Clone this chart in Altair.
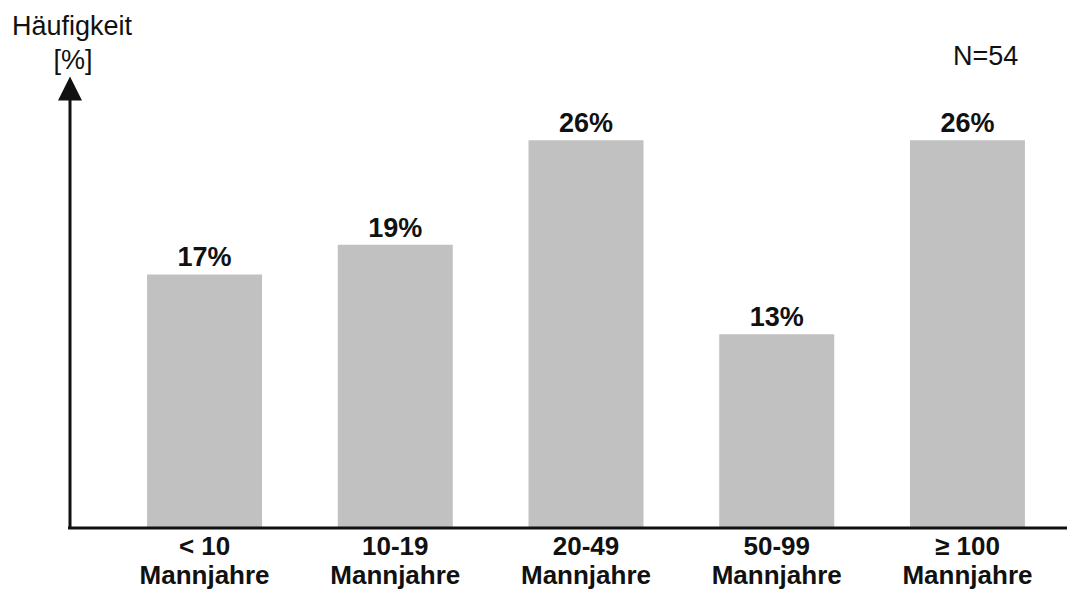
import altair as alt
import pandas as pd

# Team size classes (person-years) and share of projects in percent
categories = ["< 10\nMannjahre", "10-19\nMannjahre", "20-49\nMannjahre",
              "50-99\nMannjahre", "≥ 100\nMannjahre"]
shares = [17, 19, 26, 13, 26]
share_labels = ["17%", "19%", "26%", "13%", "26%"]

y_title_line1 = "Häufigkeit"
y_title_line2 = "[%]"
sample_note = "N=54"

FONT = "Liberation Sans"
INK = "#111111"
BAR = "#c1c1c1"

df = pd.DataFrame({"cat": categories, "share": shares, "label": share_labels})
one = pd.DataFrame({"k": [0]})

x_enc = alt.X("cat:N", sort=categories, axis=None,
              scale=alt.Scale(range=[0, 1032], paddingInner=0.397, paddingOuter=0.404))
y_scale = alt.Scale(domain=[0, 28.7], nice=False, zero=True)

base = alt.Chart(df)

bars = base.mark_bar(color=BAR).encode(
    x=x_enc,
    y=alt.Y("share:Q", scale=y_scale, axis=None),
)

values = base.mark_text(font=FONT, fontSize=27, fontWeight="bold", color=INK,
                        baseline="alphabetic", dy=-8).encode(
    x=x_enc,
    y=alt.Y("share:Q", scale=y_scale),
    text="label:N",
)

cat_labels = base.mark_text(font=FONT, fontSize=26, fontWeight="bold", color=INK,
                            baseline="alphabetic", lineBreak="\n", lineHeight=29).encode(
    x=x_enc,
    y=alt.value(455),
    text="cat:N",
)

# axis lines with an arrow head on the vertical axis
y_line = alt.Chart(one).mark_rule(color=INK, strokeWidth=3).encode(
    x=alt.value(0), y=alt.value(0), y2=alt.value(429))
x_line = alt.Chart(one).mark_rule(color=INK, strokeWidth=3).encode(
    y=alt.value(428), x=alt.value(-2), x2=alt.value(997))
arrow = alt.Chart(one).mark_point(shape="M-1,1L1,1L0,-1Z", filled=True, opacity=1,
                                  color=INK, size=576).encode(
    x=alt.value(0), y=alt.value(-11.5))

title1 = alt.Chart(one).mark_text(font=FONT, fontSize=27, color=INK, align="left",
                                  baseline="alphabetic", text=y_title_line1).encode(
    x=alt.value(-58), y=alt.value(-65))
title2 = alt.Chart(one).mark_text(font=FONT, fontSize=27, color=INK, align="center",
                                  baseline="alphabetic", text=y_title_line2).encode(
    x=alt.value(3), y=alt.value(-31))
note = alt.Chart(one).mark_text(font=FONT, fontSize=27, color=INK, align="left",
                                baseline="alphabetic", text=sample_note).encode(
    x=alt.value(883), y=alt.value(-35))

chart = alt.layer(bars, values, cat_labels, y_line, x_line, arrow, title1, title2, note).properties(
    width=997,
    height=428,
    autosize=alt.AutoSizeParams(type="none"),
    padding={"left": 70, "top": 100, "right": 6, "bottom": 68},
    background="white",
).configure_view(stroke=None)

chart.save("out.html", embed_options={"renderer": "svg", "actions": False})
